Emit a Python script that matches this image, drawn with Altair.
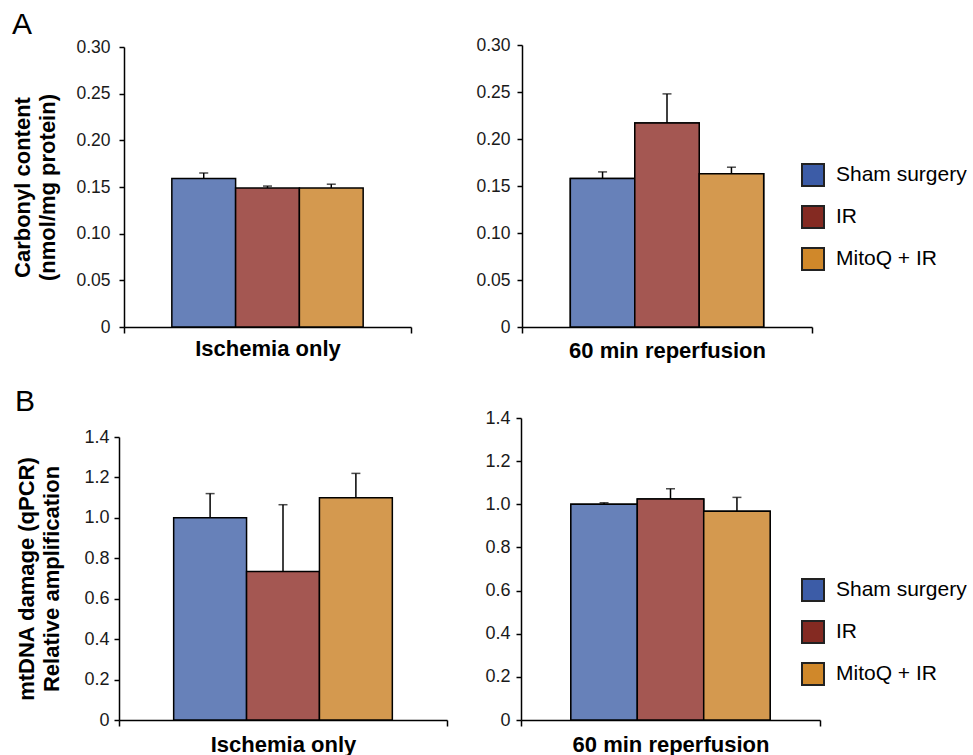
import altair as alt
import pandas as pd

FONT = "Liberation Sans"

groups = ["Sham surgery", "IR", "MitoQ + IR"]
bar_colors = ["#6781B9", "#A45752", "#D4994F"]
legend_colors = ["#3C5CA7", "#842A22", "#D0882A"]

cond_ischemia = "Ischemia only"
cond_reperf = "60 min reperfusion"

carbonyl_ischemia = [0.159, 0.149, 0.149]
carbonyl_ischemia_sem = [0.006, 0.002, 0.004]
carbonyl_reperf = [0.158, 0.217, 0.163]
carbonyl_reperf_sem = [0.007, 0.031, 0.007]

mtdna_ischemia = [1.00, 0.735, 1.10]
mtdna_ischemia_sem = [0.12, 0.33, 0.12]
mtdna_reperf = [1.00, 1.025, 0.968]
mtdna_reperf_sem = [0.007, 0.047, 0.064]

carbonyl_ticks = [0, 0.05, 0.10, 0.15, 0.20, 0.25, 0.30]
mtdna_ticks = [0, 0.2, 0.4, 0.6, 0.8, 1.0, 1.2, 1.4]

carbonyl_title = ["Carbonyl content", "(nmol/mg protein)"]
mtdna_title = ["mtDNA damage (qPCR)", "Relative amplification"]


def make_panel(cond, means, sems, ticks, decimals, width, height, xrange, yrange,
               ytitle=None, yoffset=0, ylabelpad=6, ytitlepad=16, ylabelsize=17.5,
               xlabelpad=6, legend_y=None, tag=None, tag_x=0, tag_y=0):
    df = pd.DataFrame({
        "condition": [cond] * len(groups),
        "group": groups,
        "mean": means,
        "sem": sems,
    })
    base = alt.Chart(df).transform_calculate(upper="datum.mean + datum.sem")

    x_enc = alt.X(
        "condition:N",
        scale=alt.Scale(range=xrange, paddingInner=0, paddingOuter=0),
        axis=alt.Axis(
            title=None, labelAngle=0, labelFont=FONT, labelFontSize=22,
            labelFontWeight="bold", labelColor="black", labelPadding=xlabelpad,
            labelLimit=500,
            ticks=True, tickBand="extent", tickSize=6, tickWidth=1.5,
            tickColor="black", domainColor="black", domainWidth=1.5, grid=False,
        ),
    )
    xo_enc = alt.XOffset(
        "group:N", sort=groups,
        scale=alt.Scale(domain=groups, paddingInner=0, paddingOuter=0.75),
    )
    axis_kwargs = dict(
        values=ticks,
        labelExpr=f"datum.value == 0 ? '0' : format(datum.value, '.{decimals}f')",
        labelFont=FONT, labelFontSize=ylabelsize, labelColor="#1a1a1a",
        labelPadding=ylabelpad, tickSize=5, tickWidth=1.5, tickColor="black",
        domainColor="black", domainWidth=1.5, grid=False, offset=yoffset,
    )
    if ytitle is not None:
        axis_kwargs.update(
            title=ytitle, titleFont=FONT, titleFontSize=22, titleFontWeight="bold",
            titleColor="black", titlePadding=ytitlepad, titleLineHeight=25,
        )
    else:
        axis_kwargs.update(title=None)
    y_enc = alt.Y(
        "mean:Q",
        scale=alt.Scale(domain=[ticks[0], ticks[-1]], range=yrange, nice=False, zero=True),
        axis=alt.Axis(**axis_kwargs),
    )

    layers = []
    if legend_y is not None:
        legend_layer = base.mark_bar(stroke="black", strokeWidth=1.5).encode(
            x=x_enc, xOffset=xo_enc, y=y_enc,
            fill=alt.Fill(
                "group:N", sort=groups,
                scale=alt.Scale(domain=groups, range=legend_colors),
                legend=alt.Legend(
                    title=None, orient="none", legendX=280, legendY=legend_y,
                    symbolType="square", symbolSize=484, symbolStrokeColor="#222222",
                    symbolStrokeWidth=2, labelFont=FONT, labelFontSize=21,
                    labelColor="black", labelOffset=11, rowPadding=12, padding=0,
                    labelLimit=300,
                ),
            ),
        )
        layers.append(legend_layer)

    bars = base.mark_bar(stroke="black", strokeWidth=1.5).encode(
        x=x_enc, xOffset=xo_enc, y=y_enc,
        color=alt.Color(
            "group:N", sort=groups,
            scale=alt.Scale(domain=groups, range=bar_colors), legend=None,
        ),
    )
    err = base.mark_rule(color="black", strokeWidth=1.5).encode(
        x=x_enc, xOffset=xo_enc, y="mean:Q", y2="upper:Q",
    )
    cap = base.mark_tick(color="black", thickness=1.5, size=9, orient="horizontal").encode(
        x=x_enc, xOffset=xo_enc, y="upper:Q",
    )
    layers += [bars, err, cap]

    if tag is not None:
        tag_chart = alt.Chart(pd.DataFrame({"tag": [tag]})).mark_text(
            font=FONT, fontSize=30, align="left", baseline="alphabetic", color="black",
        ).encode(text="tag:N", x=alt.value(tag_x), y=alt.value(tag_y))
        layers.append(tag_chart)

    return alt.layer(*layers).properties(width=width, height=height)


tl = make_panel(cond_ischemia, carbonyl_ischemia, carbonyl_ischemia_sem, carbonyl_ticks, 2,
                328, 282, [5, 292], [282, 2], ytitle=carbonyl_title, yoffset=-5,
                ylabelpad=9, ytitlepad=16, ylabelsize=17.5, xlabelpad=5,
                tag="A", tag_x=-107, tag_y=-11)
tr = make_panel(cond_reperf, carbonyl_reperf, carbonyl_reperf_sem, carbonyl_ticks, 2,
                299, 282, [1, 291], [282, 0], yoffset=-1, ylabelpad=7, ylabelsize=17.5,
                xlabelpad=7, legend_y=118)
bl = make_panel(cond_ischemia, mtdna_ischemia, mtdna_ischemia_sem, mtdna_ticks, 1,
                328, 302, [0, 328], [302, 19], ytitle=mtdna_title, ylabelpad=5,
                ytitlepad=20, ylabelsize=18, xlabelpad=8,
                tag="B", tag_x=-104, tag_y=-7)
br = make_panel(cond_reperf, mtdna_reperf, mtdna_reperf_sem, mtdna_ticks, 1,
                299, 302, [0, 299], [302, 0], ylabelpad=6, ylabelsize=18,
                xlabelpad=8, legend_y=160)

chart = alt.concat(
    tl, tr, bl, br, columns=2, spacing={"row": 26, "column": 27}, align="each",
).resolve_scale(
    x="independent", y="independent", fill="independent", color="independent",
    xOffset="independent",
).resolve_legend(fill="independent").properties(
    padding={"left": 11, "top": 10, "right": 0, "bottom": 0},
    background="white",
).configure_view(stroke=None)

chart.save("out.html", embed_options={"renderer": "svg", "actions": False})
